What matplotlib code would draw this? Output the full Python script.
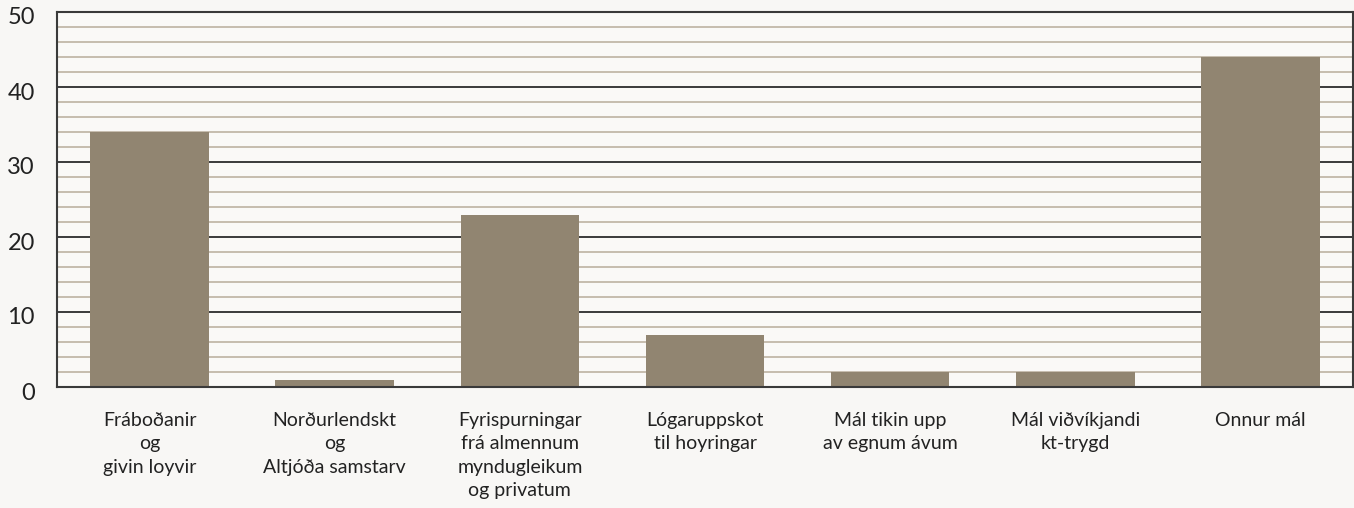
import matplotlib
matplotlib.use("Agg")
import matplotlib.pyplot as plt
from matplotlib.ticker import MultipleLocator
from matplotlib.transforms import ScaledTranslation

categories = [
    "Fráboðanir\nog\ngivin loyvir",
    "Norðurlendskt\nog\nAltjóða samstarv",
    "Fyrispurningar\nfrá almennum\nmyndugleikum\nog privatum",
    "Lógaruppskot\ntil hoyringar",
    "Mál tikin upp\nav egnum ávum",
    "Mál viðvíkjandi\nkt-trygd",
    "Onnur mál",
]
values = [34, 1, 23, 7, 2, 2, 44]
yticks = [0, 10, 20, 30, 40, 50]

plt.rcParams['font.family'] = ['Lato', 'DejaVu Sans']

fig = plt.figure(figsize=(13.54, 5.08), dpi=100)
fig.patch.set_facecolor('#f8f7f5')
ax = fig.add_axes([57/1354, 1-387/508, (1353-57)/1354, (387-12)/508])
ax.set_facecolor('#faf9f7')

x = list(range(len(categories)))
ax.bar(x, values, width=0.64, color='#918571', zorder=3)

ax.set_xlim(-0.5, len(categories) - 0.5)
ax.set_ylim(0, 50)
ax.set_yticks(yticks)
ax.set_yticklabels([str(t) for t in yticks], fontsize=17, color='#222222')
ax.yaxis.set_minor_locator(MultipleLocator(2))
ax.tick_params(axis='y', which='both', length=0, pad=16)
offset = ScaledTranslation(0, -4/100, fig.dpi_scale_trans)
for lab in ax.get_yticklabels():
    lab.set_transform(lab.get_transform() + offset)
ax.grid(axis='y', which='minor', color='#c2b8a9', linewidth=1.3, zorder=1)
ax.grid(axis='y', which='major', color='#3a3a3a', linewidth=1.4, zorder=2)

ax.set_xticks(x)
ax.set_xticklabels(categories, fontsize=14, color='#222222', linespacing=1.45, va='top')
ax.tick_params(axis='x', length=0, pad=18)

for s in ax.spines.values():
    s.set_color('#3a3a3a')
    s.set_linewidth(1.5)
    s.set_zorder(4)

fig.savefig('out.png', dpi=100, facecolor=fig.get_facecolor())
